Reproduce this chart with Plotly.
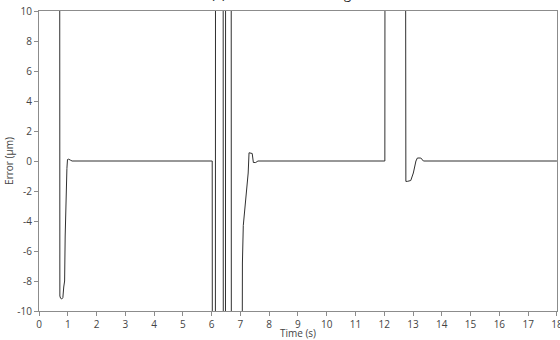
import plotly.graph_objects as go

# ---- data ----
time_s = [0, 0.72, 0.725, 0.75, 0.79, 0.83, 0.86, 0.89, 0.91, 0.93, 0.95, 0.97,
          0.99, 1.03, 1.1, 1.15, 6.02, 6.025, 6.13, 6.135, 6.40, 6.405, 6.48,
          6.485, 6.68, 6.685, 7.06, 7.07, 7.10, 7.18, 7.27, 7.30, 7.41, 7.45,
          7.53, 7.61, 12.02, 12.025, 12.74, 12.75, 12.80, 12.92, 13.01, 13.10,
          13.15, 13.27, 13.36, 18]
error_um = [15, 15, -9.0, -9.15, -9.2, -9.1, -8.4, -8.0, -5.0, -2.8, -1.5, -0.5,
            0.1, 0.12, 0.05, 0, 0, -15, -15, 15, 15, -15, -15,
            15, 15, -15, -15, -6.8, -4.3, -2.6, -0.8, 0.55, 0.5, -0.1,
            -0.1, 0, 0, 15, 15, -1.36, -1.36, -1.3, -0.8, 0.0,
            0.2, 0.2, 0, 0]

x_ticks = list(range(0, 19))
x_tick_labels = [str(v) for v in x_ticks]
y_ticks = list(range(-10, 11, 2))
y_tick_labels = [str(v) if v >= 0 else "-" + str(-v) for v in y_ticks]

title_text = "(a) Error of the tracking"

FONT = "Open Sans"
AXIS_COL = "#8c8c8c"
TXT_COL = "#444444"

fig = go.Figure()
fig.add_trace(go.Scatter(
    x=time_s, y=error_um, mode="lines",
    line=dict(color="#303030", width=1),
    showlegend=False, hoverinfo="skip",
))

fig.update_layout(
    width=560, height=340,
    margin=dict(l=39, r=3, t=11, b=29, autoexpand=False),
    paper_bgcolor="white", plot_bgcolor="white",
    font=dict(family=FONT, size=10, color=TXT_COL),
)

fig.update_xaxes(
    range=[0, 18.003], tickmode="array", tickvals=x_ticks, ticktext=x_tick_labels,
    showgrid=False, zeroline=False, showline=True, linecolor=AXIS_COL,
    linewidth=1, mirror=True, ticks="outside", ticklen=4, tickcolor=AXIS_COL,
    tickfont=dict(size=10, color=TXT_COL), automargin=False,
    ticklabeloverflow="allow",
    title=dict(text="Time (s)", font=dict(size=10, color=TXT_COL), standoff=4),
)
fig.update_yaxes(
    range=[-10, 10], tickmode="array", tickvals=y_ticks, ticktext=y_tick_labels,
    showgrid=False, zeroline=False, showline=True, linecolor=AXIS_COL,
    linewidth=1, mirror=True, ticks="outside", ticklen=4, tickcolor=AXIS_COL,
    tickfont=dict(size=10, color=TXT_COL), automargin=False,
    title=dict(text="Error (µm)", font=dict(size=10, color=TXT_COL), standoff=1),
)

fig.add_annotation(
    text=title_text, xref="paper", yref="paper", x=0.467, y=1.0 + 6 / 300,
    xanchor="center", yanchor="bottom", showarrow=False,
    font=dict(family=FONT, size=13, color="#222222"),
)

fig.write_html(
    "out.html",
    config={"displayModeBar": False},
    post_script="document.body.style.margin='0';document.body.style.overflow='hidden';",
)
